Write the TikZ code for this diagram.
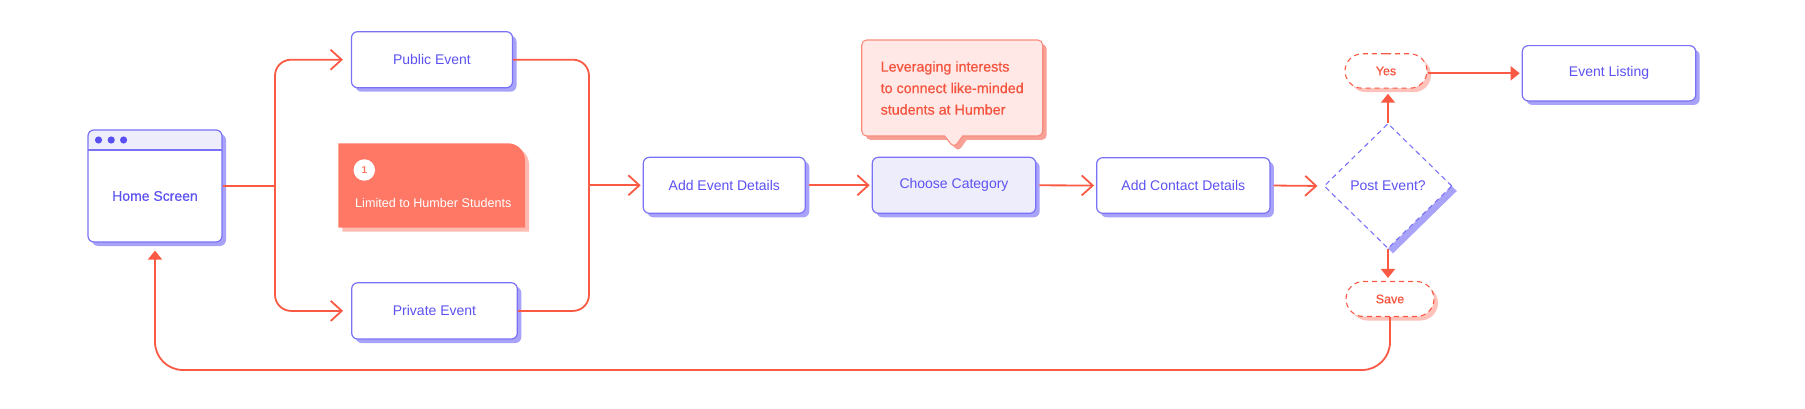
\documentclass[tikz,border=0pt]{standalone}
\usepackage{fontspec}
\setmainfont{Liberation Sans}
\newfontfamily\medfont[FakeBold=0.6]{Liberation Sans}
\usetikzlibrary{arrows.meta,shapes.geometric,shapes.misc,shapes.callouts,shadows}
\definecolor{pborder}{HTML}{7A72F6}
\definecolor{ptext}{HTML}{5C52F1}
\definecolor{pshadow}{HTML}{A8A3F8}
\definecolor{lav}{HTML}{EEEDFC}
\definecolor{pdot}{HTML}{5A50F2}
\definecolor{lineor}{HTML}{FA5A44}
\definecolor{salmon}{HTML}{FF7866}
\definecolor{salmonsh}{HTML}{FFBBB1}
\definecolor{pillsh}{HTML}{FFC2BA}
\definecolor{calfill}{HTML}{FFE8E5}
\definecolor{calborder}{HTML}{FA8C7E}
\definecolor{calsh}{HTML}{F7A096}
\definecolor{caltext}{HTML}{F4533E}
\begin{document}
\begin{tikzpicture}[x=1pt,y=-1pt,
  box/.style={draw=pborder, line width=1.2pt, fill=white, rounded corners=6pt, inner sep=0pt,
    text=ptext, font=\fontsize{14}{16}\selectfont,
    drop shadow={shadow xshift=4pt, shadow yshift=-4pt, fill=pshadow, opacity=1}},
  lbl/.style={inner sep=0pt, text=ptext, font=\medfont\fontsize{14}{16}\selectfont},
  pill/.style={rounded rectangle, draw=lineor, dash pattern=on 5pt off 4pt, line width=1.1pt, fill=white,
    inner sep=0pt, text=caltext, font=\medfont\fontsize{12.5}{14}\selectfont,
    drop shadow={shadow xshift=4pt, shadow yshift=-4pt, fill=pillsh, opacity=1}},
  decision/.style={diamond, draw=pborder, dash pattern=on 5pt off 4pt, line width=1.1pt, fill=white,
    inner sep=0pt, text=ptext, font=\fontsize{14}{16}\selectfont,
    drop shadow={shadow xshift=5pt, shadow yshift=-5pt, fill=pshadow, opacity=1}},
  conn/.style={draw=lineor, line width=1.8pt},
  barb/.style={-{Straight Barb[length=11pt,width=20pt]}},
  tri/.style={-{Triangle[length=9pt,width=14pt]}}
]
\useasboundingbox (0,0) rectangle (1805,409);

% Home screen window
\node[box, minimum width=134pt, minimum height=112pt,
  path picture={
    \fill[lav] (path picture bounding box.north west) rectangle ([yshift=-20pt]path picture bounding box.north east);
    \draw[pborder, line width=1.2pt] ([yshift=-20pt]path picture bounding box.north west) -- ([yshift=-20pt]path picture bounding box.north east);
    \fill[pdot] ([shift={(10.5,10)}]path picture bounding box.north west) circle (3.6pt);
    \fill[pdot] ([shift={(23.2,10)}]path picture bounding box.north west) circle (3.6pt);
    \fill[pdot] ([shift={(35.6,10)}]path picture bounding box.north west) circle (3.6pt);
  }] (home) at (155,186) {};
\node[lbl] (hometext) at (155,196) {Home Screen};

\node[box, minimum width=161pt, minimum height=56pt] (pub) at (432,59.7) {Public Event};
\node[box, minimum width=165.6pt, minimum height=56.3pt] (priv) at (434.5,310.9) {Private Event};
\node[box, minimum width=162pt, minimum height=56pt] (addev) at (724.3,185.3) {Add Event Details};
\node[box, minimum width=163.4pt, minimum height=56pt, fill=lav] (choose) at (954,185.3) {Choose Category};
\node[box, minimum width=173.3pt, minimum height=55.6pt] (contact) at (1183.3,185.5) {Add Contact Details};
\node[box, minimum width=173.4pt, minimum height=55.3pt] (evlist) at (1609,73.3) {Event Listing};
\node[decision, minimum width=128pt, minimum height=125pt] (post) at (1388,186) {Post Event?};
\node[pill, minimum width=82pt, minimum height=34.4pt] (yes) at (1386,71) {Yes};
\node[pill, minimum width=88pt, minimum height=35pt] (save) at (1390,299) {Save};

% Callout
\node[rectangle callout, callout absolute pointer={(954,148)}, callout pointer width=18pt,
  rounded corners=5pt, draw=calborder, line width=1.1pt, fill=calfill,
  minimum width=181pt, minimum height=96pt, inner sep=0pt, align=left, text=caltext,
  font=\medfont\fontsize{14.3}{21.5}\selectfont,
  drop shadow={shadow xshift=4pt, shadow yshift=-4pt, fill=calsh, opacity=1}]
  (callout) at (952.2,88) {Leveraging interests\\to connect like-minded\\students at Humber};

% Limited to Humber Students card
\fill[salmonsh] (342.3,231.7) -- (342.3,147.3) -- (512,147.3)
    .. controls (521.4,147.3) and (529,154.9) .. (529,164.3) -- (529,231.7) -- cycle;
\fill[salmon] (338.3,227.7) -- (338.3,143.3) -- (508,143.3)
    .. controls (517.4,143.3) and (525,150.9) .. (525,160.3) -- (525,227.7) -- cycle;
\node[circle, fill=white, minimum size=21.5pt, inner sep=0pt, text=salmon,
  font=\fontsize{10}{10}\selectfont\bfseries] (one) at (364.3,170) {1};
\node[anchor=west, inner sep=0pt, text=white, font=\fontsize{12.6}{14}\selectfont] (limtext) at (355,203) {Limited to Humber Students};

% Connectors
\coordinate (split) at (275,186);
\coordinate (merge) at (589,185.3);
\coordinate (bot) at (0,370);
\draw[conn] (home.east) -- (split);
\draw[conn, barb, rounded corners=16pt, shorten >=8pt] (split) |- (pub.west);
\draw[conn, barb, rounded corners=16pt, shorten >=8pt] (split) |- (priv.west);
\draw[conn, rounded corners=16pt] (pub.east) -| (merge);
\draw[conn, rounded corners=16pt] (priv.east) -| (merge);
\draw[conn, barb, shorten >=2pt] (merge) -- (addev.west);
\draw[conn, barb, shorten <=3pt, shorten >=2pt] (addev.east) -- (choose.west);
\draw[conn, barb, shorten <=3pt, shorten >=2pt] (choose.east) -- (contact.west);
\draw[conn, barb, shorten <=3pt, shorten >=6pt] (contact.east) -- (post.west);
\draw[conn, tri, shorten >=5pt] (post.north) -- (post.north |- yes.south);
\draw[conn, tri, shorten >=2pt] (yes.east |- evlist.west) -- (evlist.west);
\draw[conn, tri, shorten >=3pt] (post.south) -- (post.south |- save.north);
\draw[conn, tri, rounded corners=28pt, shorten >=8pt] (save.south) |- (home.south |- bot) -- (home.south);
\end{tikzpicture}
\end{document}
